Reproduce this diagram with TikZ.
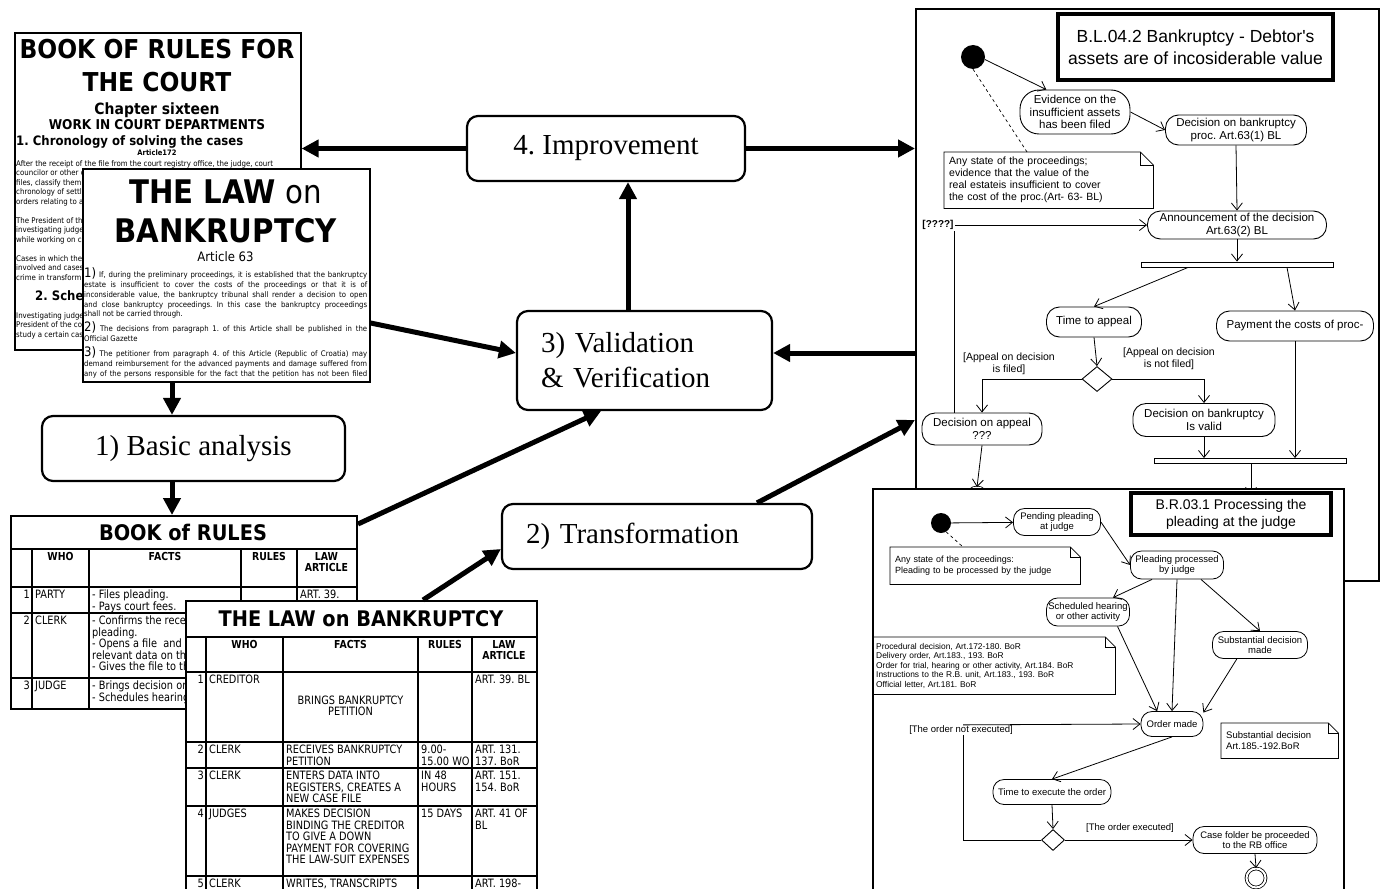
\documentclass[tikz,border=0pt]{standalone}
\usepackage{fontspec}
\setmainfont{Liberation Serif}
\newfontfamily\tah[FakeStretch=0.9]{DejaVu Sans}
\newfontfamily\tahn[FakeStretch=0.85]{DejaVu Sans}
\newfontfamily\arl{Liberation Sans}
\usetikzlibrary{arrows.meta, shapes.geometric}
\frenchspacing
\newcommand{\fsz}[2]{\fontsize{#1}{#2}\selectfont}
\newcommand{\jline}[1]{\makebox[283pt][s]{#1}}
\newcommand{\pnum}[1]{{\fsz{13}{13}#1}}
% note with a folded corner
\newcommand{\dogear}[2]{%
  \draw[line width=0.8pt] (#1.north west) -- ([xshift=-#2]#1.north east) -- ([yshift=-#2]#1.north east) -- (#1.south east) -- (#1.south west) -- cycle;
  \draw[line width=0.8pt] ([xshift=-#2]#1.north east) -- ([xshift=-#2,yshift=-#2]#1.north east) -- ([yshift=-#2]#1.north east);}

\begin{document}
\begin{tikzpicture}[x=1pt, y=-1pt,
  stepbox/.style={draw, line width=2.2pt, rounded corners=11pt, fill=white, font=\fsz{29}{35}},
  bigarrow/.style={line width=5pt, -{Triangle[length=17pt,width=17pt]}},
  paper/.style={draw, line width=1.6pt, fill=white, anchor=north west, inner sep=0pt},
  sheet/.style={draw, line width=2pt, fill=white, anchor=north west, inner sep=0pt},
  doctext/.style={anchor=base west, inner sep=0pt, font=\tah\fsz{7.8}{8}},
  lawtext/.style={anchor=base west, inner sep=0pt, font=\tah\fsz{7.7}{8}},
  cell/.style={anchor=north west, inner sep=0pt, align=left, font=\tahn\fsz{11.5}{11.5}},
  cellnum/.style={anchor=north east, inner sep=0pt, align=right, font=\tahn\fsz{11.5}{11.5}},
  head/.style={anchor=north, inner sep=0pt, align=center, font=\tahn\bfseries\fsz{11}{11.5}},
  panel/.style={draw, line width=1.6pt, fill=white, anchor=north west, inner sep=0pt},
  activity/.style={draw, rectangle, rounded corners=13pt, line width=0.9pt, inner sep=1pt, align=center, font=\arl\fsz{11.5}{12.5}},
  smallact/.style={activity, rounded corners=11pt, line width=0.8pt, font=\arl\fsz{9.5}{10.5}},
  notebox/.style={anchor=north west, inner xsep=5pt, inner ysep=2pt, align=left},
  flowarrow/.style={line width=0.8pt, -{Straight Barb[length=7pt,width=11pt]}},
  forkbar/.style={draw, line width=0.9pt, fill=white, inner sep=0pt, minimum height=5pt},
  startdot/.style={circle, fill=black, inner sep=0pt},
  endnode/.style={circle, draw, line width=0.8pt, double, double distance=2pt, inner sep=0pt, minimum size=19pt},
  choice/.style={diamond, draw, line width=0.9pt, inner sep=0pt, fill=white}
]
\useasboundingbox (0,0) rectangle (1380,888);
\clip (0,0) rectangle (1380,888);

% Book of rules for the court
\node[paper, minimum width=286pt, minimum height=317pt] (Court) at (14,32) {};
\node[anchor=base, font=\tah\bfseries\fsz{26}{26}] (CourtT1) at (157,59) {BOOK OF RULES FOR};
\node[anchor=base, font=\tah\bfseries\fsz{26}{26}] (CourtT2) at (157,92) {THE COURT};
\node[anchor=base, font=\tah\bfseries\fsz{15.5}{15.5}] (CourtT3) at (157,114) {Chapter sixteen};
\node[anchor=base, font=\tah\bfseries\fsz{13.5}{13.5}] (CourtT4) at (157,129) {WORK IN COURT DEPARTMENTS};
\node[anchor=base west, inner sep=0pt, font=\tah\bfseries\fsz{13}{13}] (CourtT5) at (16,145) {1. Chronology of solving the cases};
\node[anchor=base, font=\tah\bfseries\fsz{7.5}{7.5}] (CourtT6) at (157,155) {Article172};
\foreach \yy/\txt [count=\i] in {166/{After the receipt of the file from the court registry office, the judge, court},
    175.5/{councilor or other c}, 185/{files, classify them}, 194.5/{chronology of settl}, 204/{orders relating to a},
    223/{The President of th}, 232.5/{investigating judge}, 242/{while working on c},
    261/{Cases in which the}, 270.5/{involved and cases}, 280/{crime in transform},
    318/{Investigating judge}, 327.5/{President of the co}, 337/{study a certain cas}}
  \node[doctext] (CourtL\i) at (16,\yy) {\txt};
\node[anchor=base west, inner sep=0pt, font=\tah\bfseries\fsz{13}{13}] (CourtT7) at (35,300) {2. Sche};

% The law on bankruptcy
\node[paper, minimum width=287pt, minimum height=213pt] (Law) at (82,168) {};
\node[anchor=base, font=\tah\fsz{32.5}{32.5}] (LawT1) at (225.5,203) {{\bfseries THE LAW} on};
\node[anchor=base, font=\tah\bfseries\fsz{32.5}{32.5}] (LawT2) at (225.5,242) {BANKRUPTCY};
\node[anchor=base, font=\tah\fsz{13}{13}] (LawT3) at (225.5,261) {Article 63};
\foreach \yy/\txt [count=\i] in {
    277/{\jline{\pnum{1)} If, during the preliminary proceedings, it is established that the bankruptcy}},
    287/{\jline{estate is insufficient to cover the costs of the proceedings or that it is of}},
    297/{\jline{inconsiderable value, the bankruptcy tribunal shall render a decision to open}},
    307/{\jline{and close bankruptcy proceedings. In this case the bankruptcy proceedings}},
    316.5/{shall not be carried through.},
    331/{\jline{\pnum{2)} The decisions from paragraph 1. of this Article shall be published in the}},
    341/{Official Gazette},
    356/{\jline{\pnum{3)} The petitioner from paragraph 4. of this Article (Republic of Croatia) may}},
    366/{\jline{demand reimbursement for the advanced payments and damage suffered from}},
    376/{\jline{any of the persons responsible for the fact that the petition has not been filed}}}
  \node[lawtext] (LawL\i) at (84,\yy) {\txt};

% Table: book of rules
\node[sheet, minimum width=346pt, minimum height=193pt] (Tab1) at (10,515) {};
\draw[line width=2pt] (10,549) -- (356,549);
\foreach \y in {587,613,678} \draw[line width=1.3pt] (10,\y) -- (356,\y);
\foreach \x in {32,89,241,297} \draw[line width=1.3pt] (\x,549) -- (\x,708);
\node[font=\tah\bfseries\fsz{21.5}{21.5}] (Tab1T) at (183,532) {BOOK of RULES};
\node[head] (Tab1H1) at (60.5,552) {WHO};
\node[head] (Tab1H2) at (165,552) {FACTS};
\node[head] (Tab1H3) at (269,552) {RULES};
\node[head] (Tab1H4) at (326.5,552) {LAW\\ARTICLE};
\node[cellnum] (Tab1N1) at (30,590) {1};
\node[cell] (Tab1W1) at (35,590) {PARTY};
\node[cell] (Tab1F1) at (92,590) {- Files pleading.\\- Pays court fees.};
\node[cell] (Tab1A1) at (300,590) {ART. 39.};
\node[cellnum] (Tab1N2) at (30,616) {2};
\node[cell] (Tab1W2) at (35,616) {CLERK};
\node[cell] (Tab1F2) at (92,616) {- Confirms the recei\\pleading.\\- Opens a file\ \ and e\\relevant data on the\\- Gives the file to th};
\node[cellnum] (Tab1N3) at (30,681) {3};
\node[cell] (Tab1W3) at (35,681) {JUDGE};
\node[cell] (Tab1F3) at (92,681) {- Brings decision or\\- Schedules hearing};

% Table: the law on bankruptcy
\node[sheet, minimum width=351pt, minimum height=300pt] (Tab2) at (185,600) {};
\draw[line width=2pt] (185,637) -- (536,637);
\foreach \y in {672,742,768,806,876} \draw[line width=1.3pt] (185,\y) -- (536,\y);
\foreach \x in {206,283,418,472} \draw[line width=1.3pt] (\x,637) -- (\x,900);
\node[font=\tah\bfseries\fsz{21.5}{21.5}] (Tab2T) at (361,618.5) {THE LAW on BANKRUPTCY};
\node[head] (Tab2H1) at (244.5,640) {WHO};
\node[head] (Tab2H2) at (350.5,640) {FACTS};
\node[head] (Tab2H3) at (445,640) {RULES};
\node[head] (Tab2H4) at (504,640) {LAW\\ARTICLE};
\node[cellnum] (Tab2N1) at (204,675) {1};
\node[cell] (Tab2W1) at (209,675) {CREDITOR};
\node[cell, anchor=center, align=center] (Tab2F1) at (350.5,706) {BRINGS BANKRUPTCY\\PETITION};
\node[cell] (Tab2A1) at (475,675) {ART. 39. BL};
\node[cellnum] (Tab2N2) at (204,745) {2};
\node[cell] (Tab2W2) at (209,745) {CLERK};
\node[cell] (Tab2F2) at (286,745) {RECEIVES BANKRUPTCY\\PETITION};
\node[cell] (Tab2R2) at (421,745) {9.00-\\15.00 WO};
\node[cell] (Tab2A2) at (475,745) {ART. 131.\\137. BoR};
\node[cellnum] (Tab2N3) at (204,771) {3};
\node[cell] (Tab2W3) at (209,771) {CLERK};
\node[cell] (Tab2F3) at (286,771) {ENTERS DATA INTO\\REGISTERS, CREATES A\\NEW CASE FILE};
\node[cell] (Tab2R3) at (421,771) {IN 48\\HOURS};
\node[cell] (Tab2A3) at (475,771) {ART. 151.\\154. BoR};
\node[cellnum] (Tab2N4) at (204,809) {4};
\node[cell] (Tab2W4) at (209,809) {JUDGES};
\node[cell] (Tab2F4) at (286,809) {MAKES DECISION\\BINDING THE CREDITOR\\TO GIVE A DOWN\\PAYMENT FOR COVERING\\THE LAW-SUIT EXPENSES};
\node[cell] (Tab2R4) at (421,809) {15 DAYS};
\node[cell] (Tab2A4) at (475,809) {ART. 41 OF\\BL};
\node[cellnum] (Tab2N5) at (204,879) {5};
\node[cell] (Tab2W5) at (209,879) {CLERK};
\node[cell] (Tab2F5) at (286,879) {WRITES, TRANSCRIPTS};
\node[cell] (Tab2A5) at (475,879) {ART. 198-};

% Activity diagram B.L.04.2
\node[panel, minimum width=463pt, minimum height=572pt] (U1) at (915,8) {};
\node[draw, line width=4pt, minimum width=275pt, minimum height=66pt, align=center, font=\arl\fsz{17.5}{22}] (U1title) at (1195.5,47) {B.L.04.2 Bankruptcy - Debtor's\\assets are of incosiderable value};
\node[startdot, minimum size=24pt] (U1start) at (973,57) {};
\node[activity, rounded corners=19pt, minimum width=110pt, minimum height=44pt] (Evid) at (1075,112) {Evidence on the\\insufficient assets\\has been filed};
\node[activity, minimum width=141pt, minimum height=30pt] (Dec1) at (1236,130) {Decision on bankruptcy\\proc. Art.63(1) BL};
\node[notebox, minimum width=209pt, minimum height=56pt, text width=199pt, font=\arl\fsz{10.5}{12}] (Note1) at (944,152) {Any state of the proceedings;\\evidence that the value of the\\real estateis insufficient to cover\\the cost of the proc.(Art- 63- BL)};
\dogear{Note1}{13pt}
\node[activity, minimum width=179pt, minimum height=28pt] (Announce) at (1237,225) {Announcement of the decision\\Art.63(2) BL};
\node[font=\arl\bfseries\fsz{10}{10}, inner sep=1pt] (Unknown) at (938,225) {[????]};
\node[forkbar, minimum width=192pt] (Fork1) at (1237,264.5) {};
\node[activity, minimum width=95pt, minimum height=30pt] (Tappeal) at (1094,322) {Time to appeal};
\node[activity, minimum width=157pt, minimum height=30pt] (Pay) at (1295,326) {Payment the costs of proc-};
\node[choice, minimum width=30pt, minimum height=25pt] (Choice1) at (1097,379) {};
\node[font=\arl\fsz{10.5}{11.5}, align=center] (Gfiled) at (1009,364) {[Appeal on decision\\is filed]};
\node[font=\arl\fsz{10.5}{11.5}, align=center] (Gnotfiled) at (1169,359) {[Appeal on decision\\is not filed]};
\node[activity, minimum width=120pt, minimum height=32pt] (Appeal) at (982,429) {Decision on appeal\\???};
\node[activity, minimum width=142pt, minimum height=33pt] (Isvalid) at (1204,420) {Decision on bankruptcy\\Is valid};
\node[forkbar, minimum width=192pt] (Join1) at (1250,461) {};
\node[endnode] (End1) at (977,497) {};
\coordinate (Join1out) at (1251,495);

% Draw the flows of B.L.04.2
\draw[flowarrow] (U1start.-12) -- (Evid.142);
\draw[dashed, line width=0.7pt] (U1start.south) -- (Note1.north -| 1027,0);
\draw[flowarrow] (Evid.east) -- (Dec1.west);
\draw[flowarrow] (Dec1.south) -- (Announce.north);
\draw[flowarrow] (Unknown.east) -- (Announce.west);
\draw[line width=0.8pt] (Appeal.north -| Unknown.south east) -- (Unknown.south east);
\draw[flowarrow] (Announce.south) -- (Fork1.north -| Announce.south);
\draw[flowarrow] (Fork1.south -| 1188,0) -- (Tappeal.north);
\draw[flowarrow] (Fork1.south -| 1287,0) -- (Pay.north);
\draw[flowarrow] (Tappeal.south) -- (Choice1.north);
\draw[flowarrow] (Choice1.west) -| (Appeal.north);
\draw[flowarrow] (Choice1.east) -| (Isvalid.north);
\draw[flowarrow] (Isvalid.south) -- (Join1.north -| Isvalid.south);
\draw[flowarrow] (Pay.south) -- (Join1.north -| Pay.south);
\draw[flowarrow] (Join1.south -| Join1out) -- (Join1out);
\draw[flowarrow] (Appeal.south) -- (End1.north);

% Activity diagram B.R.03.1
\node[panel, minimum width=471pt, minimum height=420pt] (U2) at (872,488) {};
\node[draw, line width=3.5pt, minimum width=200pt, minimum height=42pt, align=center, font=\arl\fsz{14}{17}] (U2title) at (1231,514) {B.R.03.1 Processing the\\pleading at the judge};
\node[startdot, minimum size=20pt] (U2start) at (941,523) {};
\node[smallact, minimum width=87pt, minimum height=27pt] (Pending) at (1057,522) {Pending pleading\\at judge};
\node[notebox, minimum width=190pt, minimum height=37pt, text width=180pt, font=\arl\fsz{9}{10.5}] (Note2) at (890,547) {Any state of the proceedings:\\Pleading to be processed by the judge};
\dogear{Note2}{10pt}
\node[smallact, minimum width=93pt, minimum height=28pt] (Processed) at (1177,565) {Pleading processed\\by judge};
\node[smallact, minimum width=83pt, minimum height=28pt] (Sched) at (1088,612) {Scheduled hearing\\or other activity};
\node[smallact, minimum width=95pt, minimum height=27pt] (Subst) at (1260,645) {Substantial decision\\made};
\node[notebox, inner xsep=3pt, minimum width=242pt, minimum height=57pt, text width=236pt, font=\arl\fsz{8.4}{9.6}] (Note3) at (873,637) {Procedural decision, Art.172-180. BoR\\Delivery order, Art.183., 193. BoR\\Order for trial, hearing or other activity, Art.184. BoR\\Instructions to the R.B. unit, Art.183., 193. BoR\\Official letter, Art.181. BoR};
\dogear{Note3}{10pt}
\node[smallact, minimum width=62pt, minimum height=25pt] (Order) at (1172,724) {Order made};
\node[notebox, minimum width=117pt, minimum height=35pt, text width=107pt, font=\arl\fsz{9.5}{10.5}] (Note4) at (1221,723) {Substantial decision\\Art.185.-192.BoR};
\dogear{Note4}{10pt}
\node[font=\arl\fsz{9.5}{10}, fill=white, inner sep=0.5pt] (Notexec) at (961,730) {[The order not executed]};
\node[smallact, minimum width=118pt, minimum height=25pt] (Execute) at (1052,792) {Time to execute the order};
\node[choice, minimum width=23pt, minimum height=21pt] (Choice2) at (1053,840) {};
\node[font=\arl\fsz{9.5}{10}] (Exec) at (1130,828) {[The order executed]};
\node[smallact, minimum width=124pt, minimum height=27pt] (Casef) at (1255,840) {Case folder be proceeded\\to the RB office};
\node[endnode] (End2) at (1256,878) {};

% Draw the flows of B.R.03.1
\draw[flowarrow] (U2start) -- (Pending);
\draw[dashed, line width=0.7pt] (U2start.-60) -- (Note2.north -| 963,0);
\draw[flowarrow] (Pending.east) -- (Processed.west);
\draw[flowarrow] (Processed.210) -- (Sched.30);
\draw[flowarrow] (Processed.-31) -- (Subst.north);
\draw[flowarrow] (Processed.south) -- (Order.north);
\draw[flowarrow] (Sched.-26) -- (Order.139);
\draw[flowarrow] (Subst.211) -- (Order.20);
\draw[flowarrow] (Order.south) -- (Execute.north);
\draw[flowarrow] (Execute.south) -- (Choice2.north);
\draw[flowarrow] (Choice2.east) -- (Casef.west);
\draw[flowarrow] (Casef.south) -- (End2.north);
\draw[line width=0.8pt] (Choice2.west) -| (Notexec.south -| 963,0);
\draw[flowarrow] (Notexec.north -| 963,0) -- (Order.west);

% The four steps
\node[stepbox, minimum width=278pt, minimum height=65pt] (Imp) at (606,148.5) {4. Improvement};
\node[stepbox, minimum width=255pt, minimum height=99pt, align=left, text width=207pt, inner xsep=24pt] (Val) at (644.5,360.5) {3) Validation\\\& Verification};
\node[stepbox, minimum width=303pt, minimum height=65pt] (Basic) at (193.5,448.5) {1) Basic analysis};
\node[stepbox, minimum width=310pt, minimum height=65pt, align=left, text width=262pt, inner xsep=24pt] (Trans) at (657,536.5) {2) Transformation};

% Draw the thick arrows between the steps
\draw[bigarrow] (Imp.west) -- (Imp.west -| Court.east);
\draw[bigarrow] (Imp.east) -- (Imp.east -| U1.west);
\draw[bigarrow] (Val.north -| 628,0) -- (Imp.south -| 628,0);
\draw[bigarrow] (Law.east |- 0,323) -- (Val.west |- 0,353);
\draw[bigarrow] (U1.west |- 0,353) -- (Val.east |- 0,353);
\draw[bigarrow] (Law.south -| 172,0) -- (Basic.north -| 172,0);
\draw[bigarrow] (Basic.south -| 172,0) -- (Tab1.north -| 172,0);
\draw[bigarrow] (Tab1.north east |- 0,524) -- (Val.south -| 601,0);
\draw[bigarrow] (Tab2.north -| 423,0) -- (Trans.west |- 0,549);
\draw[bigarrow] (Trans.north -| 757,0) -- (U1.west |- 0,420);
\end{tikzpicture}
\end{document}
